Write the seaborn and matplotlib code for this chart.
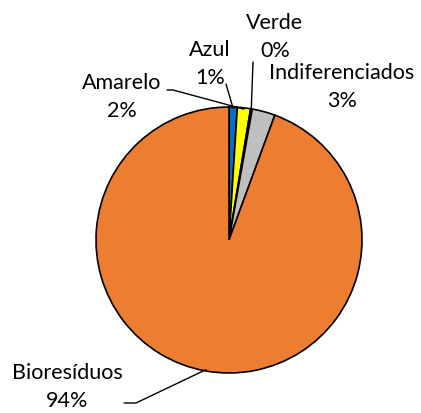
import numpy as np
import seaborn as sns
import matplotlib.pyplot as plt

categorias = ["Azul", "Amarelo", "Verde", "Indiferenciados", "Bioresíduos"]
valores = [1.0, 1.6, 0.2, 2.8, 94.4]
cores = ["#0070C0", "#FFFF00", "#00B050", "#BFBFBF", "#ED7D31"]

sns.set_theme(style="white")
plt.rcParams['font.family'] = ['Lato', 'DejaVu Sans']

fig = plt.figure(figsize=(4.21, 4.13), dpi=100)
ax = fig.add_axes([0, 0, 1, 1])
wedges, _ = ax.pie(valores, colors=cores, startangle=90, counterclock=False,
                   radius=1, wedgeprops=dict(edgecolor="black", linewidth=1.2))

# escala: centro em (229,240) px, raio 133 px
R = 133.0
ax.set_xlim(-229 / R, (421 - 229) / R)
ax.set_ylim(-(413 - 240) / R, 240 / R)
ax.set_aspect('auto')
ax.axis('off')

def px(x, y):
    return ((x - 229) / R, (240 - y) / R)

def borda(w, r=1.0):
    a = np.deg2rad((w.theta1 + w.theta2) / 2)
    return r * np.cos(a), r * np.sin(a)

# posicao do texto e pontos do traço de ligação (layout)
pos_texto = {
    "Azul": px(210, 64),
    "Amarelo": px(122, 97),
    "Verde": px(275, 37),
    "Indiferenciados": px(342, 87),
    "Bioresíduos": px(67, 387),
}
ligacao = {
    "Azul": [px(226, 84)],
    "Amarelo": [px(167, 90), px(173, 90)],
    "Verde": [px(253, 62)],
    "Indiferenciados": None,
    "Bioresíduos": [px(124, 403), px(136, 403)],
}

for nome, v, w in zip(categorias, valores, wedges):
    tx, ty = pos_texto[nome]
    ax.text(tx, ty, f"{nome}\n{v:.0f}%", ha="center", va="center",
            fontsize=15.5, linespacing=1.45, color="black")
    pts = ligacao[nome]
    if pts:
        bx, by = borda(w, 0.99)
        xs = [p[0] for p in pts] + [bx]
        ys = [p[1] for p in pts] + [by]
        ax.plot(xs, ys, color="black", linewidth=1)

plt.savefig("out.png", dpi=100)
